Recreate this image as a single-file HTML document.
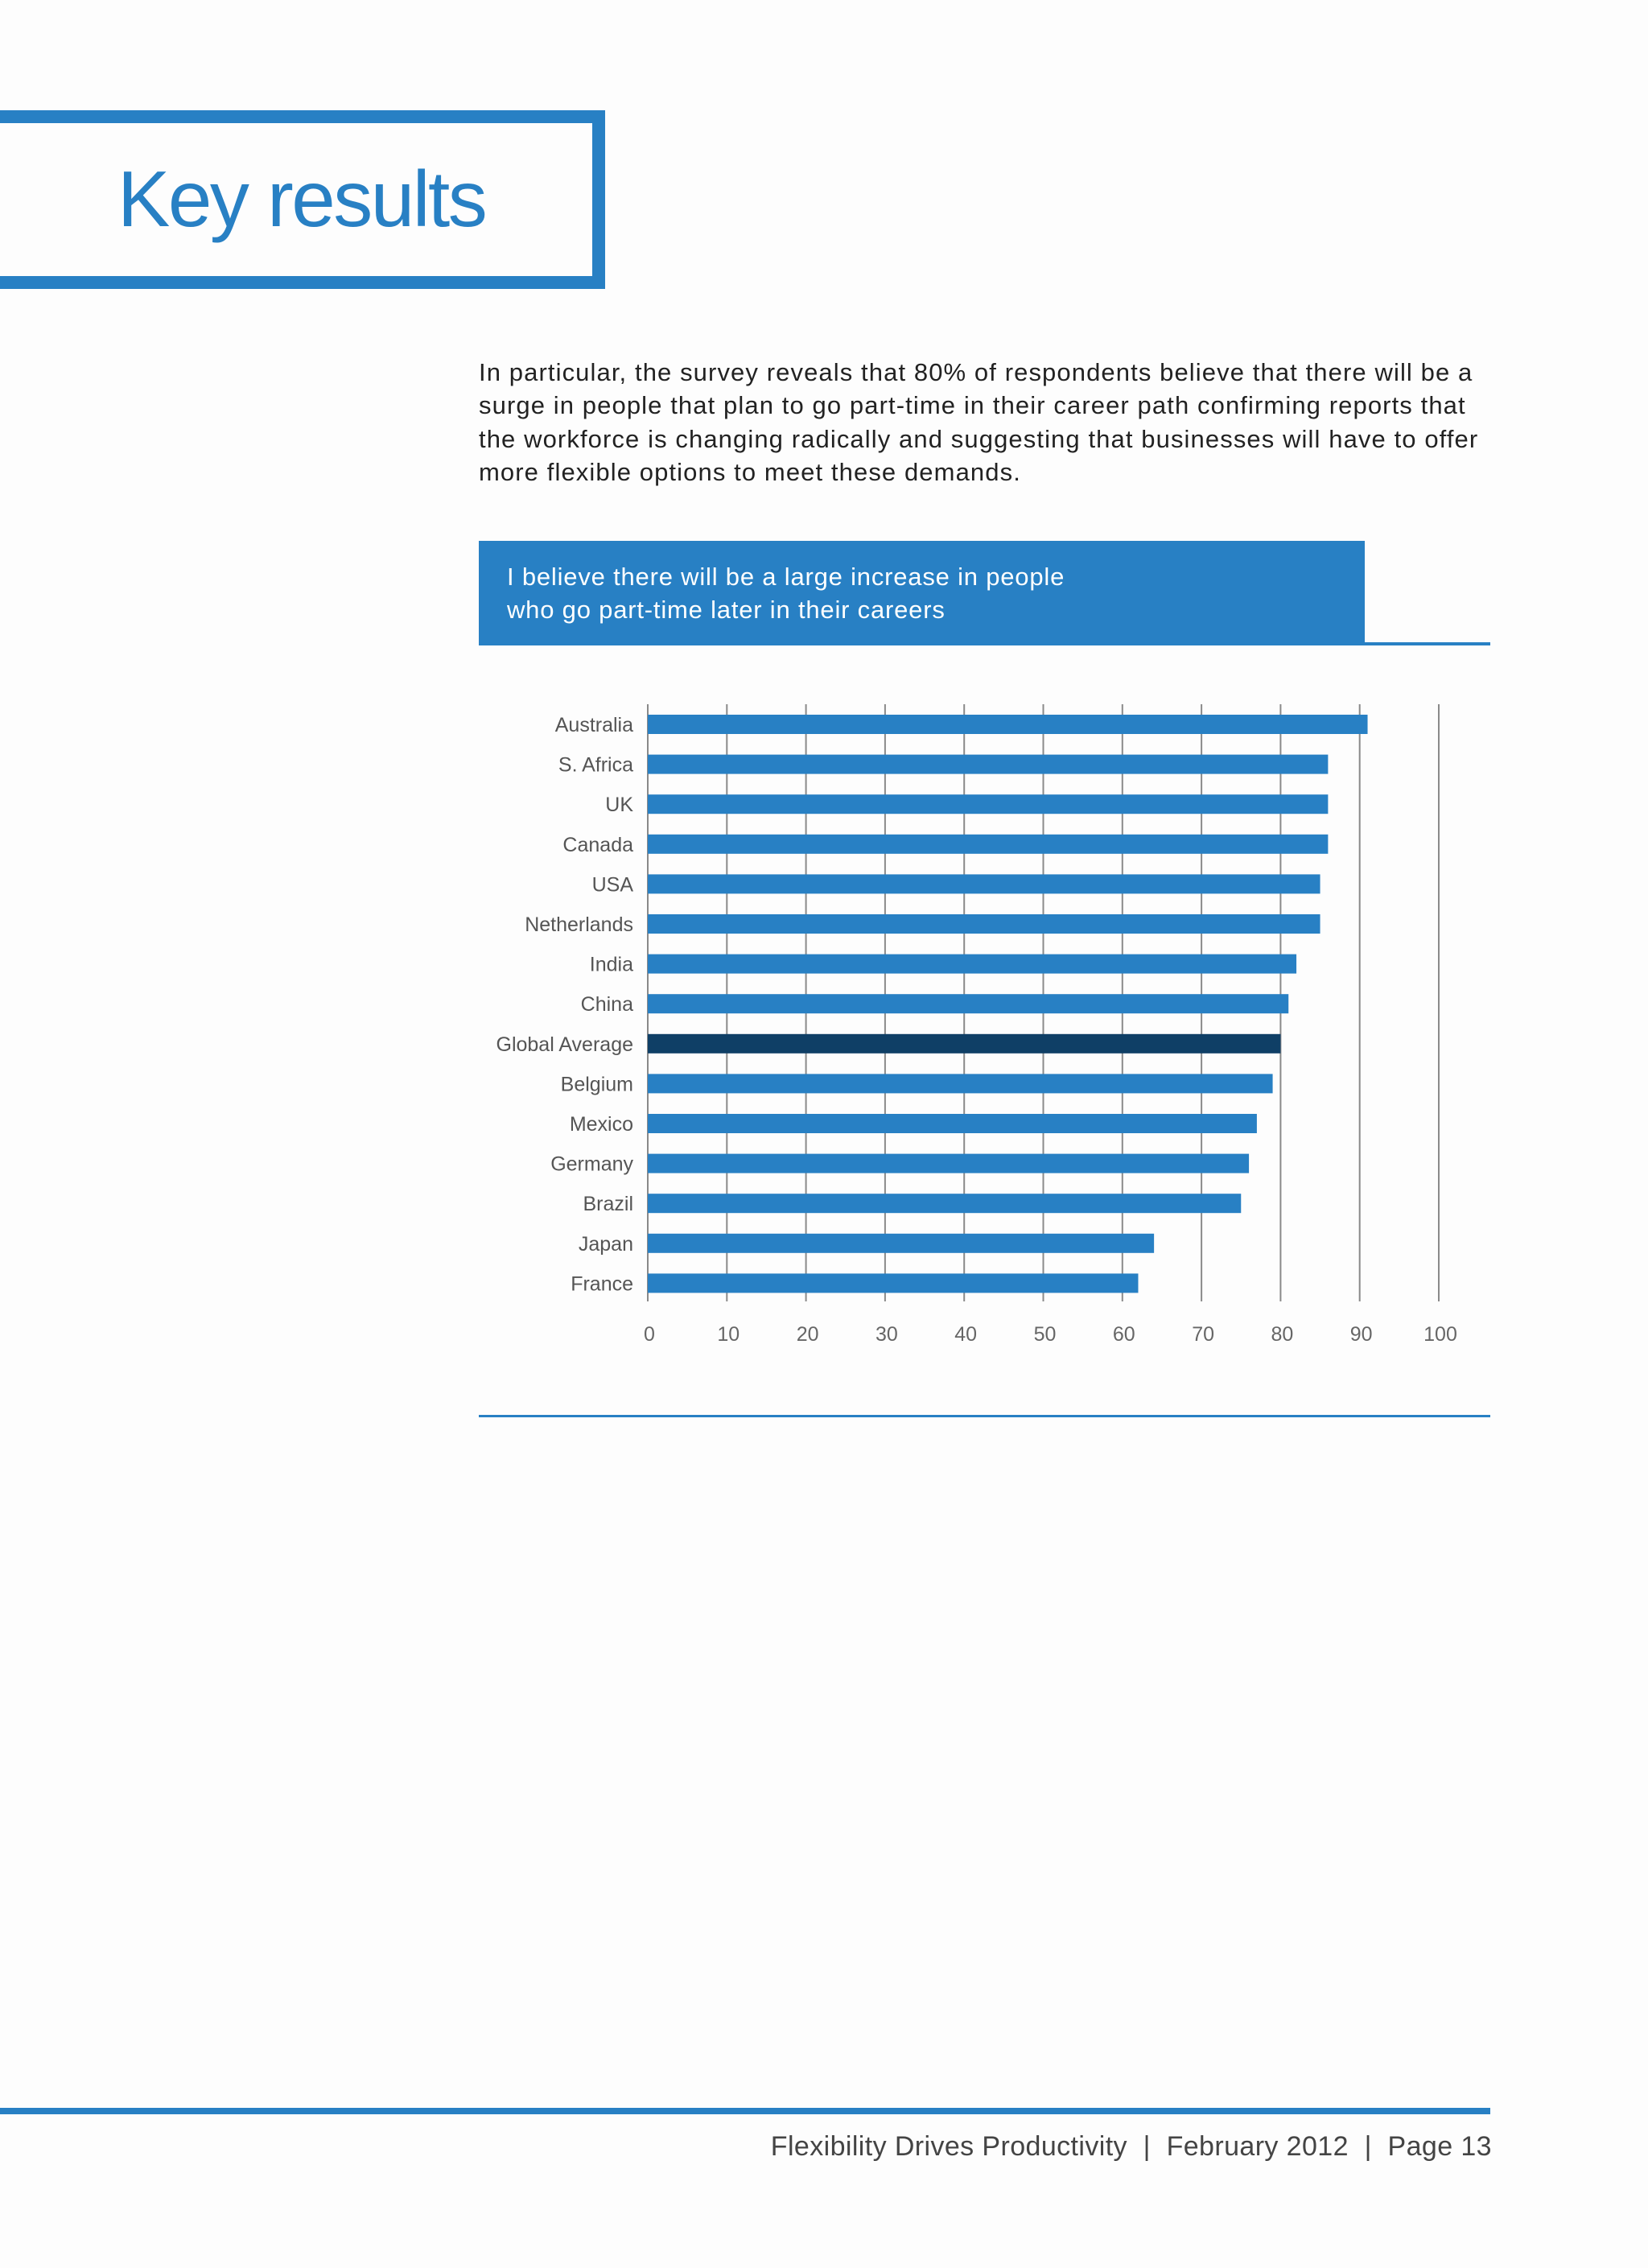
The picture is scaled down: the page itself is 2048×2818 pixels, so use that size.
<!DOCTYPE html>
<html><head><meta charset="utf-8"><style>
body{margin:0;background:#fdfdfd;width:2048px;height:2818px;position:relative;overflow:hidden;font-family:"Liberation Sans",sans-serif}
.abs{position:absolute}
</style></head><body>
<div class="abs" style="left:-20px;top:137px;width:740px;height:190px;border:16px solid #2880c4;"></div>
<div class="abs" style="left:146px;top:198px;font-size:98px;color:#2880c4;letter-spacing:-2.5px;line-height:1">Key results</div>
<div class="abs" style="left:595px;top:442px;font-size:31px;line-height:41.4px;color:#222;letter-spacing:1.1px;white-space:nowrap">In particular, the survey reveals that 80% of respondents believe that there will be a<br>surge in people that plan to go part-time in their career path confirming reports that<br>the workforce is changing radically and suggesting that businesses will have to offer<br>more flexible options to meet these demands.</div>
<div class="abs" style="left:595px;top:672px;width:1101px;height:129px;background:#2880c4"></div>
<div class="abs" style="left:595px;top:798px;width:1257px;height:4px;background:#2880c4"></div>
<div class="abs" style="left:630px;top:696px;font-size:31px;line-height:41px;color:#fff;letter-spacing:0.8px">I believe there will be a large increase in people<br>who go part-time later in their careers</div>
<svg class="abs" style="left:0;top:0" width="2048" height="1800" id="chart"></svg>
<div class="abs" style="left:595px;top:1758px;width:1257px;height:3px;background:#2880c4"></div>
<div class="abs" style="left:0;top:2619px;width:1852px;height:8px;background:#2880c4"></div>
<div class="abs" style="right:194px;top:2648px;font-size:34px;color:#444;letter-spacing:0.4px;white-space:nowrap">Flexibility Drives Productivity &nbsp;|&nbsp; February 2012 &nbsp;|&nbsp; Page 13</div>
<script>
const categories=["Australia","S. Africa","UK","Canada","USA","Netherlands","India","China","Global Average","Belgium","Mexico","Germany","Brazil","Japan","France"];
const values=[91,86,86,86,85,85,82,81,80,79,77,76,75,64,62];
const highlight=["Global Average"];
const ticks=[0,10,20,30,40,50,60,70,80,90,100];
const svg=document.getElementById('chart');
const NS='http://www.w3.org/2000/svg';
const x0=805,x1=1788,yTop=875,yBot=1617,c0=900,step=49.6,bh=24;
const xs=v=>x0+(x1-x0)*v/100;
const ys=i=>c0+i*step;
function mk(t,a){const e=document.createElementNS(NS,t);for(const k in a)e.setAttribute(k,a[k]);svg.appendChild(e);return e;}
ticks.forEach(t=>{
 const l=mk('line',{x1:xs(t),x2:xs(t),y1:yTop,y2:yBot,stroke:'#8a8a8a','stroke-width':2});
 
 
 const tx=mk('text',{x:xs(t)+2,y:1666,'text-anchor':'middle','font-size':25,fill:'#666','font-family':'Liberation Sans, sans-serif'});
 tx.textContent=t;
 
 
});
categories.forEach((c,i)=>{
 const r=mk('rect',{x:x0,y:ys(i)-bh/2,width:xs(values[i])-x0,height:bh,fill:highlight.includes(c)?'#0f3f66':'#2880c4'});
 
 
 const tx=mk('text',{x:787,y:ys(i)+9,'text-anchor':'end','font-size':25,fill:'#555','font-family':'Liberation Sans, sans-serif'});
 tx.textContent=c;
 
 
});
</script>
</body></html>
